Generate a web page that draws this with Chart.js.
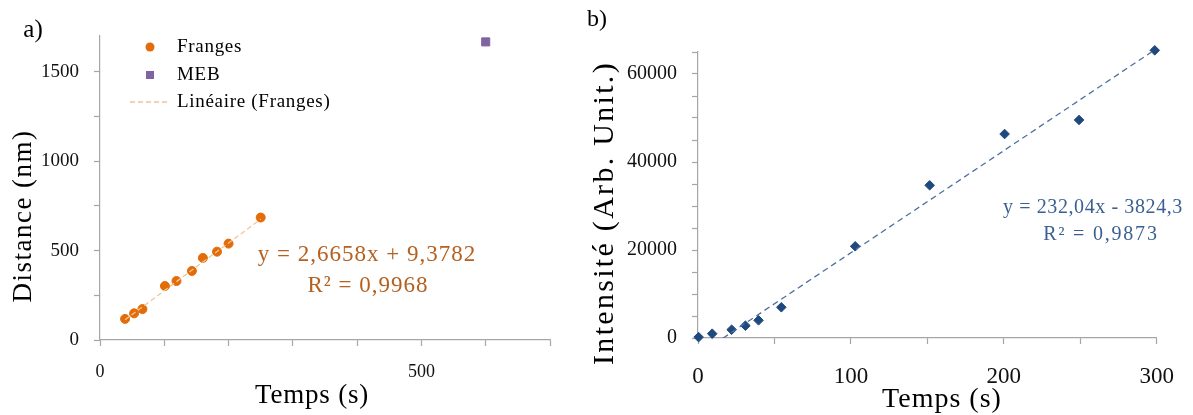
<!DOCTYPE html>
<html>
<head>
<meta charset="utf-8">
<script src="https://cdn.jsdelivr.net/npm/chart.js@4/dist/chart.umd.min.js"></script>
<style>
    html, body { margin: 0; padding: 0; background: #ffffff; }
    .panel { position: absolute; top: 0; height: 415px; }
    #left { left: 0; width: 570px; }
    #right { left: 570px; width: 623px; }
</style>
</head>
<body>
<div class="panel" id="left"><canvas id="chartA"></canvas></div>
<div class="panel" id="right"><canvas id="chartB"></canvas></div>
<script>
// Panel a) : Franges / MEB
const frangesTime = [39, 53, 66, 101, 119, 143, 160, 182, 200, 250];
const frangesDist = [118, 149, 173, 302, 330, 386, 459, 494, 539, 685];
const mebTime = [600];
const mebDist = [1667];
const fitA = { slope: 2.6658, intercept: 9.3782 };
const xTicksA = [0, 500];
const yTicksA = [0, 500, 1000, 1500];

// Panel b) : Intensité
const intTime = [0.4, 9.3, 22, 31, 39.6, 54.5, 102.8, 151.5, 200.5, 249.2, 298.7];
const intValue = [200, 980, 1890, 2800, 4020, 6980, 20840, 34700, 46360, 49550, 65380];
const fitB = { slope: 232.04, intercept: -3824.3 };
const xTicksB = [0, 100, 200, 300];
const yTicksB = [0, 20000, 40000, 60000];

const SERIF = '"Liberation Serif", "DejaVu Serif", serif';
const AXIS = '#a6a6a6';

function pts(xs, ys) {
    return xs.map((x, i) => ({ x: x, y: ys[i] }));
}

function fitLine(fit, x0, x1) {
    return [
        { x: x0, y: fit.slope * x0 + fit.intercept },
        { x: x1, y: fit.slope * x1 + fit.intercept }
    ];
}

// draws free text and the custom legend on top of a chart
function textPlugin(items, legend) {
    return {
        id: 'freeText',
        afterDraw(chart) {
            const ctx = chart.ctx;
            ctx.save();
            items.forEach(t => {
                ctx.save();
                ctx.font = `${t.size}px ${SERIF}`;
                ctx.fillStyle = t.color || '#000';
                ctx.textAlign = t.align || 'center';
                ctx.textBaseline = 'middle';
                if (t.spacing) ctx.letterSpacing = t.spacing;
                ctx.translate(t.x, t.y);
                if (t.rotate) ctx.rotate(t.rotate);
                ctx.fillText(t.text, 0, 0);
                ctx.restore();
            });
            if (legend) {
                legend.forEach(l => {
                    ctx.save();
                    if (l.kind === 'circle') {
                        ctx.fillStyle = l.color;
                        ctx.beginPath();
                        ctx.arc(150, l.y, 4.5, 0, Math.PI * 2);
                        ctx.fill();
                    } else if (l.kind === 'square') {
                        ctx.fillStyle = l.color;
                        ctx.fillRect(146, l.y - 4, 8, 8);
                    } else {
                        ctx.strokeStyle = l.color;
                        ctx.lineWidth = 1.3;
                        ctx.setLineDash([5, 3]);
                        ctx.beginPath();
                        ctx.moveTo(130, l.y);
                        ctx.lineTo(170, l.y);
                        ctx.stroke();
                    }
                    ctx.font = `19px ${SERIF}`;
                    ctx.letterSpacing = '0.7px';
                    ctx.fillStyle = '#000';
                    ctx.textAlign = 'left';
                    ctx.textBaseline = 'middle';
                    ctx.fillText(l.text, 177, l.y);
                    ctx.restore();
                });
            }
            ctx.restore();
        }
    };
}

function axisOpts(min, max, step, labels, fontSize, pad, fit) {
    return {
        type: 'linear',
        min: min,
        max: max,
        border: { color: AXIS, width: 1.2 },
        grid: { drawOnChartArea: false, color: AXIS, tickLength: 6, tickWidth: 1.2 },
        ticks: {
            autoSkip: false,
            maxRotation: 0,
            padding: pad,
            color: '#111',
            font: { family: SERIF, size: fontSize },
            callback: v => labels.includes(v) ? String(v) : ''
        },
        afterBuildTicks: s => {
            const t = [];
            for (let v = min; v <= max + 1e-9; v += step) t.push({ value: v });
            s.ticks = t;
        },
        afterFit: fit
    };
}

Chart.defaults.animation = false;

new Chart(document.getElementById('chartA'), {
    type: 'scatter',
    data: {
        datasets: [
            {
                label: 'Linéaire (Franges)',
                type: 'line',
                data: fitLine(fitA, frangesTime[0], frangesTime[frangesTime.length - 1]),
                borderColor: '#f2c596',
                borderWidth: 1.3,
                borderDash: [5, 3],
                pointRadius: 0,
                fill: false
            },
            {
                label: 'Franges',
                data: pts(frangesTime, frangesDist),
                backgroundColor: '#e36c0a',
                borderColor: '#e36c0a',
                pointStyle: 'circle',
                pointRadius: 4.5
            },
            {
                label: 'MEB',
                data: pts(mebTime, mebDist),
                backgroundColor: '#8064a2',
                borderColor: '#8064a2',
                pointStyle: 'rect',
                pointRadius: 5.7
            }
        ]
    },
    options: {
        responsive: true,
        maintainAspectRatio: false,
        layout: { padding: { left: 0, top: 36, right: 20, bottom: 0 } },
        plugins: { legend: { display: false }, tooltip: { enabled: false } },
        scales: {
            x: axisOpts(0, 700, 100, xTicksA, 18, 15, s => { s.height = 75; }),
            y: axisOpts(0, 1700, 250, yTicksA, 19, 15, s => { s.width = 100; })
        }
    },
    plugins: [textPlugin([
        { text: 'a)', x: 33, y: 30, size: 25 },
        { text: 'Distance (nm)', x: 24, y: 216, size: 27, rotate: -Math.PI / 2, spacing: '1.5px' },
        { text: 'Temps (s)', x: 312, y: 396, size: 27, spacing: '0.8px' },
        { text: 'y = 2,6658x + 9,3782', x: 367, y: 255, size: 23, color: '#b5601f', spacing: '1px' },
        { text: 'R² = 0,9968', x: 368, y: 286, size: 23, color: '#b5601f', spacing: '1px' }
    ], [
        { kind: 'circle', text: 'Franges', y: 47, color: '#e36c0a' },
        { kind: 'square', text: 'MEB', y: 75, color: '#8064a2' },
        { kind: 'dash', text: 'Linéaire (Franges)', y: 102, color: '#f2c596' }
    ])]
});

new Chart(document.getElementById('chartB'), {
    type: 'scatter',
    data: {
        datasets: [
            {
                label: 'Linéaire',
                type: 'line',
                data: fitLine(fitB, 0, 300),
                borderColor: '#4f71a0',
                borderWidth: 1.3,
                borderDash: [6, 4],
                pointRadius: 0,
                fill: false
            },
            {
                label: 'Intensité',
                data: pts(intTime, intValue),
                backgroundColor: '#1f497d',
                borderColor: '#1f497d',
                pointStyle: 'rectRot',
                pointRadius: 4.8,
                clip: false
            }
        ]
    },
    options: {
        responsive: true,
        maintainAspectRatio: false,
        layout: { padding: { left: 0, top: 52, right: 35, bottom: 0 } },
        plugins: { legend: { display: false }, tooltip: { enabled: false } },
        scales: {
            x: axisOpts(0, 300, 50, xTicksB, 23, 19, s => { s.height = 77; }),
            y: axisOpts(0, 65000, 5000, yTicksB, 20, 15, s => { s.width = 128; })
        }
    },
    plugins: [textPlugin([
        { text: 'b)', x: 27, y: 20, size: 24 },
        { text: 'Intensité (Arb. Unit.)', x: 35, y: 213, size: 30, rotate: -Math.PI / 2, spacing: '2.3px' },
        { text: 'Temps (s)', x: 372, y: 400, size: 28, spacing: '1px' },
        { text: 'y = 232,04x - 3824,3', x: 523, y: 208, size: 20, color: '#3b5f92', spacing: '0.6px' },
        { text: 'R² = 0,9873', x: 531, y: 235, size: 20, color: '#3b5f92', spacing: '1.8px' }
    ])]
});
</script>
</body>
</html>
